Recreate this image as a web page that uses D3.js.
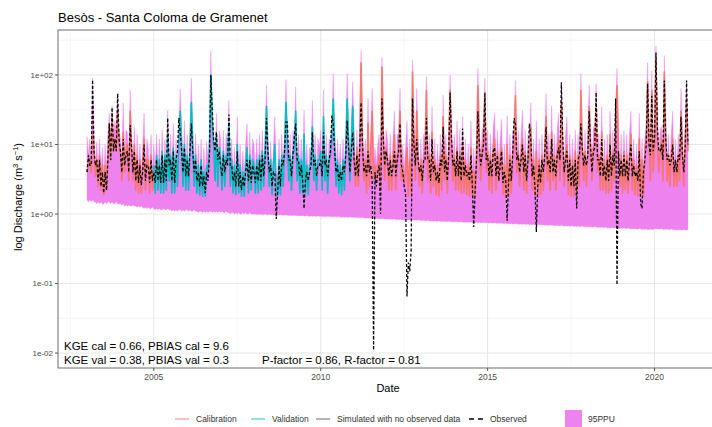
<!DOCTYPE html>
<html>
<head>
<meta charset="utf-8">
<script src="https://cdn.jsdelivr.net/npm/d3@7"></script>
<style>
  body { margin: 0; background: #fff; }
  svg { font-family: "Liberation Sans", Arial, sans-serif; }
</style>
</head>
<body>
<div id="container"></div>
<script>
/* CONSTANTS AND GLOBALS */
const width = 712,
  height = 427,
  margin = { top: 30, right: -7, bottom: 59, left: 58 };

const startYear = 2003,
  stepsPerYear = 24;

// upper bound of the 95PPU band (m3/s)
const ppuUpper = [
  /*2003*/ 13, 7, 12, 6, 90, 14, 5, 11, 4, 12, 4, 9, 3.5, 10, 4, 14, 28, 10, 36, 13, 22, 15, 50, 16,
  /*2004*/ 12, 5, 40, 6, 16, 15, 5, 60, 13, 5, 18, 4, 14, 4, 10, 4, 9, 28, 4, 12, 9, 4, 14, 4,
  /*2005*/ 10, 4, 14, 4, 12, 4, 16, 4, 12, 4, 31, 5, 14, 4, 20, 4, 12, 5, 18, 62, 15, 5, 22, 4,
  /*2006*/ 14, 4, 18, 89, 15, 4, 14, 4, 10, 3.5, 12, 3.5, 9, 3.5, 11, 6, 16, 225, 30, 15, 5, 28, 4, 16,
  /*2007*/ 12, 4, 16, 4, 14, 9, 43, 4, 12, 3.5, 9, 3.5, 25, 3.5, 10, 3.5, 8, 3.5, 10, 20, 3.5, 15, 4, 12,
  /*2008*/ 10, 4, 12, 4, 14, 4, 16, 4, 12, 71, 12, 4, 11, 3.5, 9, 25, 4, 3.5, 12, 3.5, 14, 4, 14, 86,
  /*2009*/ 18, 5, 14, 4, 16, 12, 67, 5, 14, 4, 12, 4, 31, 4, 10, 3.5, 9, 8, 43, 5, 14, 4, 12, 9,
  /*2010*/ 16, 4, 60, 5, 14, 4, 12, 11, 18, 105, 15, 4, 12, 4, 10, 3.5, 12, 4, 14, 105, 18, 5, 20, 80,
  /*2011*/ 14, 4, 16, 4, 20, 225, 18, 5, 12, 4, 46, 4, 16, 64, 5, 9, 5, 10, 14, 4, 178, 22, 5, 16,
  /*2012*/ 12, 4, 14, 4, 12, 30, 4, 14, 14, 64, 5, 10, 4, 9, 22, 3.5, 12, 4, 163, 18, 5, 64, 12, 4,
  /*2013*/ 12, 3.5, 14, 12, 95, 5, 14, 3.5, 35, 4, 12, 3.5, 10, 3.5, 14, 4, 51, 5, 14, 3.5, 14, 100, 18, 5,
  /*2014*/ 14, 4, 22, 4, 16, 3.5, 25, 3.5, 12, 3.5, 10, 3.5, 22, 3.5, 9, 3.5, 14, 124, 18, 5, 16, 18, 89, 6,
  /*2015*/ 16, 4, 14, 3.5, 18, 28, 4, 16, 5, 12, 23, 3.5, 10, 3.5, 26, 3.5, 14, 3.5, 16, 14, 83, 6, 16, 4,
  /*2016*/ 14, 31, 4, 16, 3.5, 14, 9, 40, 4, 12, 3.5, 22, 3.5, 12, 3.5, 14, 4, 12, 54, 5, 14, 4, 36, 5,
  /*2017*/ 14, 4, 16, 28, 5, 79, 12, 4, 14, 25, 3.5, 14, 3.5, 12, 3.5, 16, 3.5, 14, 4, 105, 15, 5, 16, 4,
  /*2018*/ 16, 71, 15, 5, 18, 15, 75, 6, 14, 4, 35, 4, 12, 3.5, 14, 3.5, 30, 4, 16, 5, 30, 124, 15, 4,
  /*2019*/ 14, 3.5, 16, 4, 14, 3.5, 14, 30, 4, 12, 3.5, 10, 3.5, 28, 3.5, 12, 3.5, 12, 18, 150, 18, 5, 115, 6,
  /*2020*/ 15, 260, 22, 6, 16, 18, 5, 190, 20, 5, 14, 4, 14, 30, 4, 12, 4, 14, 5, 64, 16, 4, 18, 83,
  /*2021*/ 12
];

// lower bound of the 95PPU band (m3/s)
const ppuLower = [
  /*2003*/ 1.6, 1.5, 1.6, 1.5, 1.6, 1.5, 1.5, 1.4, 1.5, 1.4, 1.5, 1.4, 1.4, 1.5, 1.4, 1.5, 1.5, 1.4, 1.5, 1.4, 1.4, 1.5, 1.4, 1.4,
  /*2004*/ 1.4, 1.35, 1.4, 1.3, 1.35, 1.3, 1.35, 1.3, 1.3, 1.35, 1.3, 1.3, 1.25, 1.3, 1.25, 1.3, 1.25, 1.2, 1.25, 1.2, 1.25, 1.2, 1.2, 1.25,
  /*2005*/ 1.2, 1.15, 1.2, 1.15, 1.2, 1.15, 1.15, 1.2, 1.15, 1.15, 1.2, 1.15, 1.15, 1.1, 1.15, 1.1, 1.15, 1.1, 1.15, 1.15, 1.1, 1.15, 1.1, 1.15,
  /*2006*/ 1.15, 1.1, 1.15, 1.1, 1.1, 1.15, 1.1, 1.1, 1.05, 1.1, 1.1, 1.05, 1.1, 1.05, 1.1, 1.05, 1.1, 1.1, 1.05, 1.1, 1.05, 1.1, 1.05, 1.1,
  /*2007*/ 1.05, 1.1, 1.05, 1.05, 1.1, 1.05, 1.05, 1.0, 1.05, 1.05, 1.0, 1.05, 1.0, 1.05, 1.0, 1.0, 1.05, 1.0, 1.05, 1.0, 1.0, 1.05, 1.0, 1.0,
  /*2008*/ 1.0, 1.0, 0.98, 1.0, 0.98, 1.0, 0.98, 0.98, 1.0, 0.98, 0.97, 1.0, 0.97, 0.98, 0.97, 0.97, 0.98, 0.96, 0.97, 0.98, 0.96, 0.97, 0.96, 0.97,
  /*2009*/ 0.96, 0.95, 0.96, 0.95, 0.95, 0.96, 0.95, 0.95, 0.94, 0.95, 0.94, 0.95, 0.94, 0.94, 0.95, 0.94, 0.93, 0.94, 0.93, 0.94, 0.93, 0.93, 0.94, 0.93,
  /*2010*/ 0.93, 0.92, 0.93, 0.92, 0.92, 0.93, 0.92, 0.91, 0.92, 0.91, 0.92, 0.91, 0.91, 0.92, 0.91, 0.9, 0.91, 0.9, 0.91, 0.9, 0.9, 0.91, 0.9, 0.9,
  /*2011*/ 0.9, 0.89, 0.9, 0.88, 0.89, 0.88, 0.89, 0.88, 0.87, 0.88, 0.87, 0.88, 0.87, 0.86, 0.87, 0.86, 0.87, 0.86, 0.85, 0.86, 0.85, 0.86, 0.85, 0.85,
  /*2012*/ 0.85, 0.84, 0.85, 0.84, 0.84, 0.85, 0.83, 0.84, 0.83, 0.84, 0.83, 0.83, 0.82, 0.83, 0.82, 0.83, 0.82, 0.82, 0.83, 0.81, 0.82, 0.81, 0.82, 0.81,
  /*2013*/ 0.81, 0.8, 0.81, 0.8, 0.8, 0.81, 0.8, 0.79, 0.8, 0.79, 0.8, 0.79, 0.79, 0.8, 0.78, 0.79, 0.78, 0.79, 0.78, 0.78, 0.79, 0.78, 0.78, 0.77,
  /*2014*/ 0.78, 0.77, 0.78, 0.77, 0.77, 0.78, 0.76, 0.77, 0.76, 0.77, 0.76, 0.76, 0.77, 0.75, 0.76, 0.75, 0.76, 0.75, 0.76, 0.75, 0.75, 0.76, 0.75, 0.75,
  /*2015*/ 0.75, 0.74, 0.75, 0.74, 0.74, 0.75, 0.74, 0.73, 0.74, 0.73, 0.74, 0.73, 0.73, 0.74, 0.72, 0.73, 0.72, 0.73, 0.72, 0.72, 0.73, 0.72, 0.72, 0.71,
  /*2016*/ 0.72, 0.71, 0.72, 0.71, 0.71, 0.72, 0.7, 0.71, 0.7, 0.71, 0.7, 0.7, 0.71, 0.7, 0.7, 0.69, 0.7, 0.69, 0.7, 0.69, 0.69, 0.7, 0.69, 0.69,
  /*2017*/ 0.69, 0.68, 0.69, 0.68, 0.68, 0.69, 0.68, 0.67, 0.68, 0.67, 0.68, 0.67, 0.67, 0.68, 0.66, 0.67, 0.66, 0.67, 0.66, 0.66, 0.67, 0.66, 0.66, 0.65,
  /*2018*/ 0.66, 0.65, 0.66, 0.65, 0.65, 0.66, 0.65, 0.64, 0.65, 0.64, 0.65, 0.64, 0.64, 0.65, 0.63, 0.64, 0.63, 0.64, 0.63, 0.63, 0.64, 0.63, 0.63, 0.62,
  /*2019*/ 0.63, 0.62, 0.63, 0.62, 0.62, 0.63, 0.62, 0.61, 0.62, 0.61, 0.62, 0.61, 0.61, 0.62, 0.61, 0.6, 0.61, 0.6, 0.61, 0.6, 0.6, 0.61, 0.6, 0.6,
  /*2020*/ 0.62, 0.61, 0.62, 0.61, 0.61, 0.62, 0.6, 0.61, 0.6, 0.61, 0.6, 0.6, 0.61, 0.6, 0.6, 0.59, 0.6, 0.59, 0.6, 0.59, 0.59, 0.6, 0.59, 0.59,
  /*2021*/ 0.6
];

// best simulation (m3/s)
const simulated = [
  /*2003*/ 4, 5, 6, 4, 14, 8, 3.5, 6, 2.5, 7, 2.2, 5, 1.9, 5, 2.2, 8, 20, 6, 25, 8, 12, 8, 30, 10,
  /*2004*/ 8, 3, 15, 4, 8, 10, 3, 30, 9, 3, 10, 2.2, 7, 2, 6, 2, 5, 12, 2.2, 6, 6, 2, 7, 2.2,
  /*2005*/ 5, 2, 7, 2.2, 6, 2, 8, 2, 7, 2.2, 14, 3, 7, 2, 9, 2, 7, 2.5, 12, 30, 10, 2.5, 10, 2.2,
  /*2006*/ 7, 2.2, 9, 40, 10, 2.5, 7, 2, 5, 1.9, 6, 1.8, 4, 1.8, 5, 4, 8, 100, 20, 10, 3, 14, 2.5, 9,
  /*2007*/ 6, 2.2, 8, 2.5, 7, 6, 20, 2.5, 6, 2, 5, 1.9, 10, 2, 5, 1.8, 4, 1.8, 5, 9, 2, 7, 2.2, 6,
  /*2008*/ 5, 2, 6, 2, 7, 2.2, 8, 2.5, 8, 35, 8, 2.5, 6, 1.9, 5, 10, 2, 1.8, 6, 1.9, 7, 2.5, 9, 40,
  /*2009*/ 12, 3, 7, 2.2, 8, 8, 30, 3, 7, 2, 6, 2, 14, 2, 5, 1.9, 5, 5, 18, 3, 7, 2.2, 6, 6,
  /*2010*/ 8, 2.2, 25, 3, 7, 2, 6, 7, 12, 45, 10, 2.5, 6, 2, 5, 1.9, 6, 2.2, 9, 45, 12, 3, 10, 35,
  /*2011*/ 7, 2.5, 9, 2.5, 10, 150, 12, 3, 6, 2, 20, 2.5, 8, 30, 3, 5, 3, 5, 7, 2.2, 130, 15, 3, 9,
  /*2012*/ 6, 2.2, 7, 2.2, 6, 14, 2.2, 7, 9, 30, 3, 5, 2.5, 4, 9, 1.8, 6, 2, 110, 12, 3, 30, 6, 2.5,
  /*2013*/ 6, 2, 7, 8, 60, 3, 7, 2, 15, 2.5, 6, 1.9, 5, 1.8, 7, 2.2, 25, 3, 7, 2, 9, 60, 12, 3,
  /*2014*/ 7, 2.2, 9, 2.2, 8, 2, 10, 2, 6, 1.9, 5, 1.8, 9, 1.8, 4, 1.8, 7, 70, 12, 3, 8, 12, 50, 4,
  /*2015*/ 8, 2.2, 7, 2, 9, 12, 2.2, 8, 3, 6, 9, 1.9, 5, 1.8, 10, 1.8, 7, 2, 8, 9, 50, 4, 8, 2.5,
  /*2016*/ 7, 12, 2.2, 8, 2, 7, 6, 18, 2.2, 6, 1.8, 8, 1.8, 6, 1.9, 7, 2.2, 8, 25, 3, 7, 2.2, 15, 3,
  /*2017*/ 7, 2.2, 8, 12, 3, 40, 8, 2.5, 7, 10, 1.9, 7, 1.8, 6, 1.8, 8, 1.9, 7, 2.5, 60, 10, 3, 8, 2.5,
  /*2018*/ 8, 35, 10, 3, 9, 10, 40, 4, 7, 2.2, 15, 2.2, 6, 2, 7, 2, 14, 2.2, 8, 3, 20, 70, 10, 2.5,
  /*2019*/ 7, 2, 8, 2.2, 7, 2, 7, 14, 2.2, 6, 1.9, 5, 1.8, 12, 1.8, 6, 1.9, 8, 12, 80, 12, 3, 60, 4,
  /*2020*/ 10, 160, 15, 4, 8, 12, 3, 110, 14, 3, 7, 2.5, 7, 12, 2.5, 6, 2.5, 7, 3, 30, 8, 2.5, 10, 40,
  /*2021*/ 8
];

// observed discharge (m3/s)
const observed = [
  /*2003*/ 4, 7, 5, 5, 85, 8, 5, 6, 3, 6, 2.5, 4, 2, 4, 2.2, 6, 20, 6, 34, 8, 12, 8, 54, 12,
  /*2004*/ 8, 4, 12, 5, 7, 8, 4, 19, 9, 4, 8, 3, 6, 2.8, 5, 2.6, 4, 10, 3, 5, 5, 2.8, 6, 3,
  /*2005*/ 4, 2.8, 6, 3, 5, 2.8, 7, 2.8, 6, 3, 24, 5, 6, 3, 8, 2.8, 6, 8, 24, 15, 8, 4, 9, 3.5,
  /*2006*/ 6, 3.5, 8, 20, 8, 4, 6, 3, 4, 2.5, 5, 2.5, 3.5, 2, 4, 3, 7, 100, 33, 12, 8, 15, 6, 8,
  /*2007*/ 5, 3.5, 7, 4, 6, 5, 27, 5, 5, 3, 4, 2.5, 8, 2.5, 4, 2.2, 3.5, 2.5, 4, 6, 3, 6, 2.8, 5,
  /*2008*/ 4, 2.8, 5, 3, 6, 3, 7, 3.5, 6, 24, 8, 4, 5, 2.5, 4, 4, 0.85, 2, 5, 2.5, 6, 5, 8, 21,
  /*2009*/ 21, 6, 6, 3.5, 7, 13, 20, 6, 6, 3.5, 5, 3, 1.2, 3, 4, 3, 4, 5, 15, 5, 6, 3.5, 5, 5,
  /*2010*/ 6, 3.5, 15, 5, 6, 3.5, 6, 8, 26, 20, 8, 4, 5, 3, 4, 3, 5, 4, 7, 22, 9, 4, 8, 15,
  /*2011*/ 6, 3.5, 7, 3.5, 8, 40, 10, 4, 5, 3.5, 8, 4, 5, 3, 0.011, 4, 2.5, 4, 5, 1.0, 46, 12, 5, 8,
  /*2012*/ 6, 3.5, 6, 3.5, 5, 8, 3.5, 6, 8, 20, 5, 4, 2.5, 2, 0.065, 0.2, 0.15, 0.3, 46, 10, 5, 12, 6, 4,
  /*2013*/ 5, 3, 6, 6, 24, 6, 6, 3, 12, 4, 5, 3, 4, 2.8, 6, 5, 18, 4, 6, 3, 7, 56, 12, 5,
  /*2014*/ 6, 3.5, 8, 3.5, 7, 3, 17, 3.5, 5, 3.5, 4, 3, 7, 2.5, 0.65, 2.2, 6, 30, 10, 5, 7, 10, 56, 6,
  /*2015*/ 7, 3.5, 6, 3.5, 8, 9, 3.5, 7, 3, 5, 8, 2.8, 4, 3, 0.8, 2.8, 6, 3, 7, 24, 20, 6, 7, 4,
  /*2016*/ 6, 10, 4, 7, 3, 6, 20, 12, 3.5, 5, 2.5, 0.55, 2.5, 5, 2.8, 6, 4, 7, 18, 5, 6, 4, 12, 4,
  /*2017*/ 6, 3.5, 7, 9, 6, 78, 12, 4, 6, 8, 3, 6, 2.5, 5, 2.5, 6, 1.2, 6, 7, 20, 9, 5, 7, 5,
  /*2018*/ 7, 30, 9, 4, 8, 9, 56, 6, 6, 3.5, 12, 3.5, 5, 3, 6, 3, 10, 3.5, 7, 5, 46, 0.096, 8, 3.5,
  /*2019*/ 6, 3.5, 7, 3.5, 6, 3, 6, 10, 3.5, 5, 3.5, 4, 3, 8, 1.4, 1.2, 4, 6, 10, 75, 10, 7, 50, 8,
  /*2020*/ 12, 210, 18, 8, 8, 10, 6, 83, 12, 6, 7, 5, 6, 10, 4, 6, 4, 7, 6, 25, 7, 4, 9, 83,
  /*2021*/ 10
];

// validation period (the rest is calibration)
const validationStart = 2005,
  validationEnd = 2011;

// axes
const xDomain = [2002.13, 2021.93];
const yDomain = [0.0061, 443];
const xTicks = [2005, 2010, 2015, 2020];
const xMinor = [2002.5, 2007.5, 2012.5, 2017.5];
const yTicks = [0.01, 0.1, 1, 10, 100];
const yTickLabels = ["1e-02", "1e-01", "1e+00", "1e+01", "1e+02"];
const yMinor = [0.0316, 0.316, 3.16, 31.6, 316];

// goodness of fit text
const statsLeft = ["KGE cal = 0.66, PBIAS cal = 9.6", "KGE val = 0.38, PBIAS val = 0.3"];
const statsRight = "P-factor = 0.86, R-factor = 0.81";

// COLORS
const colCal = "#F8766D",
  colVal = "#00BFC4",
  colNoObs = "#595959",
  colPPU = "#EE82EE";

/* BUILD TABLE */
const rows = ppuUpper.map((u, i) => ({
  t: startYear + i / stepsPerYear,
  up: u,
  lo: ppuLower[i],
  sim: simulated[i],
  obs: observed[i]
}));

const svg = d3
  .select("#container")
  .append("svg")
  .attr("width", width)
  .attr("height", height);

// SCALES
const xScale = d3.scaleLinear()
  .domain(xDomain)
  .range([margin.left, width - margin.right]);

const yScale = d3.scaleLog()
  .domain(yDomain)
  .range([height - margin.bottom, margin.top]);

const x0 = margin.left, x1 = width - margin.right,
  y0 = margin.top, y1 = height - margin.bottom;

// CLIP
svg.append("clipPath").attr("id", "panel")
  .append("rect")
  .attr("x", x0).attr("y", y0)
  .attr("width", x1 - x0).attr("height", y1 - y0);

// GRID
const grid = svg.append("g");
grid.selectAll(".xminor").data(xMinor).join("line")
  .attr("x1", d => xScale(d)).attr("x2", d => xScale(d))
  .attr("y1", y0).attr("y2", y1)
  .attr("stroke", "#F0F0F0").attr("stroke-width", 0.6);
grid.selectAll(".yminor").data(yMinor.filter(d => yScale(d) > y0)).join("line")
  .attr("y1", d => yScale(d)).attr("y2", d => yScale(d))
  .attr("x1", x0).attr("x2", x1)
  .attr("stroke", "#F0F0F0").attr("stroke-width", 0.6);
grid.selectAll(".xmajor").data(xTicks).join("line")
  .attr("x1", d => xScale(d)).attr("x2", d => xScale(d))
  .attr("y1", y0).attr("y2", y1)
  .attr("stroke", "#E6E6E6").attr("stroke-width", 1);
grid.selectAll(".ymajor").data(yTicks).join("line")
  .attr("y1", d => yScale(d)).attr("y2", d => yScale(d))
  .attr("x1", x0).attr("x2", x1)
  .attr("stroke", "#E6E6E6").attr("stroke-width", 1);

const plot = svg.append("g").attr("clip-path", "url(#panel)");

// 95PPU RIBBON
const area = d3.area()
  .x(d => xScale(d.t))
  .y0(d => yScale(d.lo))
  .y1(d => yScale(d.up));

plot.append("path")
  .datum(rows)
  .attr("d", area)
  .attr("fill", colPPU)
  .attr("stroke", colPPU)
  .attr("stroke-width", 0.4);

// SIMULATED LINES
const line = d3.line()
  .x(d => xScale(d.t))
  .y(d => yScale(d.sim));

const periods = [
  { color: colCal, data: rows.filter(d => d.t <= validationStart) },
  { color: colVal, data: rows.filter(d => d.t >= validationStart && d.t <= validationEnd) },
  { color: colCal, data: rows.filter(d => d.t >= validationEnd) }
];

plot.selectAll(".sim").data(periods).join("path")
  .attr("d", d => line(d.data))
  .attr("fill", "none")
  .attr("stroke", d => d.color)
  .attr("stroke-width", 1.6)
  .attr("stroke-linejoin", "round");

// OBSERVED
const obsLine = d3.line()
  .x(d => xScale(d.t))
  .y(d => yScale(d.obs));

plot.append("path")
  .datum(rows)
  .attr("d", obsLine)
  .attr("fill", "none")
  .attr("stroke", "#000")
  .attr("stroke-width", 1.25)
  .attr("stroke-dasharray", "3,2");

// STATS TEXT
svg.selectAll(".stats").data(statsLeft).join("text")
  .attr("x", 64)
  .attr("y", (d, i) => 350 + i * 13.5)
  .attr("font-size", 11.5)
  .attr("fill", "#000")
  .text(d => d);

svg.append("text")
  .attr("x", 262).attr("y", 363.5)
  .attr("font-size", 11.5)
  .attr("fill", "#000")
  .text(statsRight);

// PANEL BORDER
svg.append("rect")
  .attr("x", x0).attr("y", y0)
  .attr("width", x1 - x0).attr("height", y1 - y0)
  .attr("fill", "none")
  .attr("stroke", "#6E6E6E")
  .attr("stroke-width", 1);

// AXES
const xAxis = svg.append("g");
xAxis.selectAll("line").data(xTicks).join("line")
  .attr("x1", d => xScale(d)).attr("x2", d => xScale(d))
  .attr("y1", y1).attr("y2", y1 + 3)
  .attr("stroke", "#555");
xAxis.selectAll("text").data(xTicks).join("text")
  .attr("x", d => xScale(d)).attr("y", y1 + 12)
  .attr("text-anchor", "middle")
  .attr("font-size", 8.5)
  .attr("fill", "#4D4D4D")
  .text(d => d);

const yAxis = svg.append("g");
yAxis.selectAll("line").data(yTicks).join("line")
  .attr("y1", d => yScale(d)).attr("y2", d => yScale(d))
  .attr("x1", x0 - 3).attr("x2", x0)
  .attr("stroke", "#555");
yAxis.selectAll("text").data(yTicks).join("text")
  .attr("x", x0 - 5).attr("y", d => yScale(d))
  .attr("dy", "0.35em")
  .attr("text-anchor", "end")
  .attr("font-size", 8)
  .attr("fill", "#4D4D4D")
  .text((d, i) => yTickLabels[i]);

// TITLES
svg.append("text")
  .attr("x", 58).attr("y", 22)
  .attr("font-size", 13)
  .attr("fill", "#000")
  .text("Besòs - Santa Coloma de Gramenet");

svg.append("text")
  .attr("x", 388).attr("y", 392)
  .attr("text-anchor", "middle")
  .attr("font-size", 11)
  .attr("fill", "#000")
  .text("Date");

const yTitle = svg.append("text")
  .attr("transform", "translate(22,197) rotate(-90)")
  .attr("text-anchor", "middle")
  .attr("font-size", 11)
  .attr("fill", "#000");
yTitle.append("tspan").text("log Discharge (m");
yTitle.append("tspan").attr("font-size", 7.5).attr("baseline-shift", "super").text("3");
yTitle.append("tspan").text(" s");
yTitle.append("tspan").attr("font-size", 7.5).attr("baseline-shift", "super").text("−1");
yTitle.append("tspan").text(")");

// LEGEND
const legend = svg.append("g").attr("font-size", 8.5).attr("fill", "#333");
const legendLines = [
  { label: "Calibration", color: colCal, x: 175, dash: null },
  { label: "Validation", color: colVal, x: 251, dash: null },
  { label: "Simulated with no observed data", color: colNoObs, x: 316, dash: null },
  { label: "Observed", color: "#000", x: 469, dash: "5,4" }
];
const ly = 419;
legend.selectAll("line").data(legendLines).join("line")
  .attr("x1", d => d.x).attr("x2", d => d.x + 14)
  .attr("y1", ly).attr("y2", ly)
  .attr("stroke", d => d.color)
  .attr("stroke-width", d => d.dash ? 1.3 : 0.9)
  .attr("stroke-dasharray", d => d.dash);
legend.selectAll("text").data(legendLines).join("text")
  .attr("x", d => d.x + 21).attr("y", ly)
  .attr("dy", "0.35em")
  .attr("fill", "#333")
  .text(d => d.label);

legend.append("rect")
  .attr("x", 565).attr("y", 410)
  .attr("width", 17).attr("height", 17)
  .attr("fill", colPPU);
legend.append("text")
  .attr("x", 588).attr("y", ly)
  .attr("dy", "0.35em")
  .attr("fill", "#333")
  .text("95PPU");
</script>
</body>
</html>
